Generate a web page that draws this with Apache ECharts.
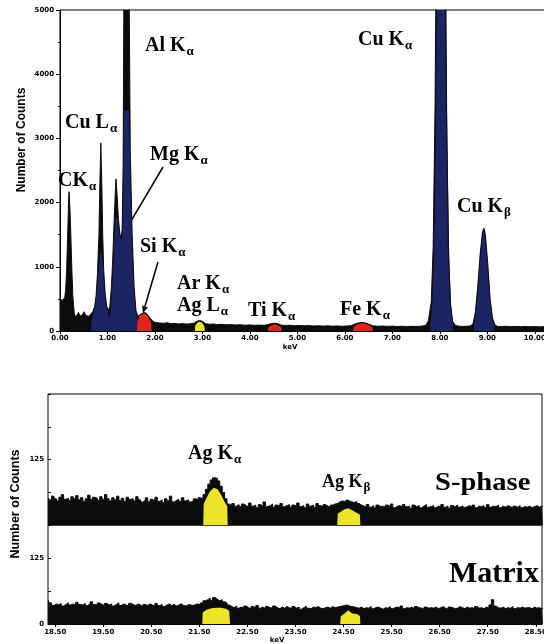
<!DOCTYPE html>
<html><head><meta charset="utf-8">
<script src="https://cdn.jsdelivr.net/npm/echarts@6/dist/echarts.min.js"></script>
<style>html,body{margin:0;padding:0;background:#fff}#c{width:544px;height:644px}</style>
</head><body><div id="c"></div>
<script>
// ---------- TOP SPECTRUM (0-10 keV), [keV, counts] ----------
const topSpectrum = [
[0.00,520],[0.02,500],[0.04,470],[0.06,440],[0.08,450],[0.10,520],[0.12,650],[0.14,950],[0.16,1450],[0.18,2000],[0.19,2170],[0.21,1900],[0.23,1450],[0.25,950],[0.27,550],[0.30,280],[0.33,210],[0.36,240],[0.39,290],[0.42,230],[0.45,200],[0.48,260],[0.51,300],[0.54,240],[0.57,210],[0.61,230],[0.65,260],[0.69,300],[0.73,380],[0.76,550],[0.79,900],[0.82,1500],[0.84,2300],[0.86,2930],[0.88,2300],[0.90,1500],[0.92,950],[0.95,600],[0.98,400],[1.02,320],[1.05,380],[1.08,650],[1.11,1100],[1.14,1700],[1.17,2250],[1.18,2370],[1.20,2150],[1.23,1750],[1.26,1520],[1.29,1430],[1.31,1600],[1.33,2600],[1.35,6000],[1.38,14000],[1.42,14000],[1.45,6000],[1.48,2800],[1.52,1500],[1.56,700],[1.60,320],[1.64,230],[1.68,250],[1.73,275],[1.78,290],[1.83,270],[1.88,220],[1.93,170],[1.98,140],[2.04,130],[2.10,125],[2.18,120],[2.26,128],[2.34,115],[2.42,118],[2.50,110],[2.58,115],[2.66,108],[2.74,112],[2.82,120],[2.88,150],[2.94,165],[3.00,150],[3.06,115],[3.14,105],[3.22,110],[3.30,100],[3.40,104],[3.50,96],[3.60,100],[3.70,94],[3.80,98],[3.90,90],[4.00,95],[4.10,88],[4.20,92],[4.30,88],[4.38,100],[4.45,115],[4.52,120],[4.59,112],[4.66,92],[4.74,86],[4.84,90],[4.94,82],[5.04,86],[5.14,80],[5.24,84],[5.34,78],[5.44,82],[5.54,76],[5.64,80],[5.74,75],[5.84,79],[5.94,74],[6.04,78],[6.12,82],[6.20,105],[6.28,125],[6.36,132],[6.44,125],[6.52,100],[6.60,80],[6.70,74],[6.80,78],[6.90,72],[7.00,76],[7.10,70],[7.20,74],[7.30,70],[7.40,73],[7.50,70],[7.60,75],[7.70,85],[7.76,160],[7.82,450],[7.86,1300],[7.90,3500],[7.94,7500],[7.98,11000],[8.02,12000],[8.06,11000],[8.10,7500],[8.14,3500],[8.18,1300],[8.22,450],[8.27,150],[8.33,85],[8.40,75],[8.48,72],[8.56,74],[8.64,78],[8.70,110],[8.75,300],[8.80,700],[8.85,1200],[8.90,1550],[8.93,1600],[8.96,1500],[9.01,1050],[9.06,500],[9.11,200],[9.16,95],[9.22,72],[9.30,70],[9.40,74],[9.50,68],[9.60,72],[9.70,67],[9.80,70],[9.90,66],[10.00,69],[10.10,65],[10.20,68],[10.30,66]
];
// peak (ROI) regions
const blueCuL  = [[0.66,150],[0.70,260],[0.74,420],[0.78,680],[0.81,950],[0.84,1200],[0.87,1250],[0.90,1050],[0.93,750],[0.97,450],[1.01,280],[1.05,200]];
const blueMgAl = [[1.05,180],[1.08,420],[1.11,850],[1.14,1350],[1.17,1750],[1.20,1800],[1.23,1650],[1.26,1500],[1.29,1420],[1.31,1600],[1.33,2500],[1.35,3440],[1.45,3440],[1.48,2700],[1.52,1450],[1.56,680],[1.60,300],[1.63,150]];
const blueCuKa = [[7.80,100],[7.84,400],[7.88,1200],[7.92,3300],[7.96,7000],[8.00,10500],[8.04,11500],[8.08,10000],[8.12,6500],[8.16,3000],[8.20,1100],[8.24,380],[8.28,100]];
const blueCuKb = [[8.72,90],[8.76,280],[8.80,640],[8.85,1150],[8.90,1500],[8.93,1560],[8.96,1450],[9.01,1000],[9.06,460],[9.11,170],[9.15,80]];
const redSi = [[1.62,0],[1.63,150],[1.68,240],[1.74,275],[1.80,270],[1.86,220],[1.92,140],[1.93,0]];
const redTi = [[4.38,0],[4.39,55],[4.45,90],[4.52,100],[4.59,90],[4.66,55],[4.67,0]];
const redFe = [[6.17,0],[6.18,50],[6.25,100],[6.34,122],[6.43,115],[6.52,85],[6.58,50],[6.59,0]];
const yellowArAg = [[2.84,0],[2.85,80],[2.90,135],[2.95,145],[3.00,125],[3.04,70],[3.05,0]];

// ---------- BOTTOM SPECTRA (18.35-28.65 keV) ----------
const bottomKeV = [
18.35,18.40,18.45,18.50,18.55,18.60,18.65,18.70,18.75,18.80,18.85,18.90,18.95,19.00,19.05,19.10,19.15,19.20,19.25,19.30,
19.35,19.40,19.45,19.50,19.55,19.60,19.65,19.70,19.75,19.80,19.85,19.90,19.95,20.00,20.05,20.10,20.15,20.20,20.25,20.30,
20.35,20.40,20.45,20.50,20.55,20.60,20.65,20.70,20.75,20.80,20.85,20.90,20.95,21.00,21.05,21.10,21.15,21.20,21.25,21.30,
21.35,21.40,21.45,21.50,21.55,21.60,21.65,21.70,21.75,21.80,21.85,21.90,21.95,22.00,22.05,22.10,22.15,22.20,22.25,22.30,
22.35,22.40,22.45,22.50,22.55,22.60,22.65,22.70,22.75,22.80,22.85,22.90,22.95,23.00,23.05,23.10,23.15,23.20,23.25,23.30,
23.35,23.40,23.45,23.50,23.55,23.60,23.65,23.70,23.75,23.80,23.85,23.90,23.95,24.00,24.05,24.10,24.15,24.20,24.25,24.30,
24.35,24.40,24.45,24.50,24.55,24.60,24.65,24.70,24.75,24.80,24.85,24.90,24.95,25.00,25.05,25.10,25.15,25.20,25.25,25.30,
25.35,25.40,25.45,25.50,25.55,25.60,25.65,25.70,25.75,25.80,25.85,25.90,25.95,26.00,26.05,26.10,26.15,26.20,26.25,26.30,
26.35,26.40,26.45,26.50,26.55,26.60,26.65,26.70,26.75,26.80,26.85,26.90,26.95,27.00,27.05,27.10,27.15,27.20,27.25,27.30,
27.35,27.40,27.45,27.50,27.55,27.60,27.65,27.70,27.75,27.80,27.85,27.90,27.95,28.00,28.05,28.10,28.15,28.20,28.25,28.30,
28.35,28.40,28.45,28.50,28.55,28.60,28.65
];
const sphaseCounts = [
52,48,55,50,46,53,58,49,51,47,54,50,56,48,52,45,50,57,49,53,
51,47,54,49,58,50,46,52,48,55,47,51,45,53,49,50,46,54,48,44,
47,52,44,49,46,53,45,48,43,50,46,55,44,47,49,45,52,46,48,44,
46,50,48,52,50,58,68,78,86,90,89,84,74,62,50,40,37,41,36,39,
35,40,37,34,42,36,38,33,39,36,44,35,37,40,34,38,36,41,35,37,
39,34,38,36,42,35,37,33,40,36,38,34,41,37,35,39,36,34,38,40,
41,44,46,45,48,46,44,43,45,41,38,36,35,39,34,37,33,38,35,36,
34,38,35,40,33,36,37,34,39,35,36,32,38,35,37,33,36,39,34,35,
37,33,36,35,39,34,36,32,37,35,38,34,36,33,35,37,34,38,33,36,
35,37,33,39,34,36,35,38,33,36,34,37,35,32,36,34,37,33,35,34,
36,33,35,37,34,36,35
];
const matrixCounts = [
46,40,35,38,36,39,34,37,40,36,38,35,41,37,36,39,35,38,42,37,
36,40,37,35,39,36,38,34,37,40,35,38,36,34,39,37,35,38,36,33,
37,35,38,36,34,39,35,37,33,36,38,35,37,34,36,38,35,34,37,36,
35,37,38,36,40,44,46,49,45,50,47,44,46,42,40,36,33,31,34,30,
32,30,34,31,29,33,31,35,30,32,29,33,31,30,34,31,29,32,30,33,
31,29,33,30,32,28,31,34,30,29,32,31,33,30,29,31,32,30,33,31,
32,33,34,35,36,34,33,32,31,30,32,29,31,30,33,29,31,32,30,28,
31,30,33,29,31,32,30,34,29,31,30,32,29,33,31,30,28,32,30,31,
30,32,29,31,33,30,28,32,31,29,30,33,31,29,32,30,31,29,33,30,
31,29,32,30,36,46,34,31,30,32,29,31,30,33,29,31,30,32,30,31,
31,29,32,30,31,29,30
];
const sphaseAgKa = [[21.58,0],[21.59,40],[21.65,52],[21.72,64],[21.80,71],[21.88,68],[21.95,58],[22.02,45],[22.08,36],[22.09,0]];
const sphaseAgKb = [[24.37,0],[24.38,22],[24.45,26],[24.52,30],[24.60,32],[24.68,28],[24.76,24],[24.84,20],[24.85,0]];
const matrixAgKa = [[21.56,0],[21.57,22],[21.65,27],[21.75,30],[21.85,31],[21.95,31],[22.05,29],[22.12,25],[22.14,0]];
const matrixAgKb = [[24.43,0],[24.44,14],[24.52,20],[24.60,26],[24.68,20],[24.78,19],[24.84,15],[24.85,0]];
const bottomTicks = [18.5,19.5,20.5,21.5,22.5,23.5,24.5,25.5,26.5,27.5,28.5];

// annotation texts (main, subscript)
const topNotes = [
  ['Al K','α',145,52],['Cu K','α',358,46],['Cu L','α',65,129],['Mg K','α',150,161],
  ['CK','α',58,187],['Si K','α',140,253],['Ar K','α',177,290],['Ag L','α',177,312],
  ['Ti K','α',248,317],['Fe K','α',340,316],['Cu K','β',457,213],
  ['Ag K','α',188,460],['Ag K','β',322,488]
];

// ---------- build ----------
const BLACK='#0b0b0b', BLUE='#1c2464', RED='#e0261c', YELLOW='#ece32a';
const pairs = (xs, ys) => xs.map((x,i)=>[x, ys[i]]);
function area(data, color, xi, yi, extra){
  return Object.assign({type:'line', xAxisIndex:xi, yAxisIndex:yi, data, symbol:'none', showSymbol:false,
    silent:true, animation:false, clip:true,
    lineStyle:{width:0,color}, areaStyle:{color, opacity:1}}, extra||{});
}
const tickFont = {fontSize:7, fontWeight:'bold', color:'#000', fontFamily:'DejaVu Sans'};
const gridBase = {show:true, borderColor:'#000', borderWidth:1, backgroundColor:'transparent', containLabel:false, outerBoundsMode:'none'};

const chart = echarts.init(document.getElementById('c'), null, {renderer:'canvas'});
chart.setOption({
  animation:false,
  backgroundColor:'#fff',
  grid:[
    Object.assign({left:60, top:10, width:489, height:321}, gridBase),
    Object.assign({left:48, top:394, width:494, height:131}, gridBase),
    Object.assign({left:48, top:525, width:494, height:99}, gridBase)
  ],
  xAxis:[
    {type:'value', gridIndex:0, min:0, max:10.3, interval:1,
     axisLine:{lineStyle:{color:'#000',width:1}}, axisTick:{length:3, lineStyle:{color:'#000'}},
     axisLabel:Object.assign({margin:4, formatter:v=>v.toFixed(2)}, tickFont), splitLine:{show:false}},
    {type:'value', gridIndex:1, min:18.35, max:28.63,
     axisLine:{show:false}, axisTick:{show:false}, axisLabel:{show:false}, splitLine:{show:false}},
    {type:'value', gridIndex:2, min:18.35, max:28.63,
     axisLine:{lineStyle:{color:'#000',width:1}}, axisTick:{length:3, customValues:bottomTicks, lineStyle:{color:'#000'}},
     axisLabel:Object.assign({margin:5, customValues:bottomTicks, formatter:v=>v.toFixed(2)}, tickFont), splitLine:{show:false}}
  ],
  yAxis:[
    {type:'value', gridIndex:0, min:0, max:5000, interval:1000,
     axisLine:{show:true, lineStyle:{color:'#000',width:1}}, axisTick:{show:true, length:4, lineStyle:{color:'#000'}},
     minorTick:{show:true, splitNumber:2, length:2, lineStyle:{color:'#000'}},
     axisLabel:Object.assign({margin:6, formatter:v=>String(v)}, tickFont), splitLine:{show:false}},
    {type:'value', gridIndex:1, min:0, max:250, interval:62.5,
     axisLine:{show:false}, axisTick:{show:true, inside:true, length:3, lineStyle:{color:'#000'}},
     axisLabel:Object.assign({margin:4, formatter:v=>v===125?'125':''}, tickFont), splitLine:{show:false}},
    {type:'value', gridIndex:2, min:0, max:187.5, interval:62.5,
     axisLine:{show:false}, axisTick:{show:true, inside:true, length:3, lineStyle:{color:'#000'}},
     axisLabel:Object.assign({margin:4, formatter:v=>(v===125||v===0)?String(v):''}, tickFont), splitLine:{show:false}}
  ],
  series:[
    area(topSpectrum, BLACK, 0, 0),
    area(blueCuL, BLUE, 0, 0), area(blueMgAl, BLUE, 0, 0), area(blueCuKa, BLUE, 0, 0), area(blueCuKb, BLUE, 0, 0),
    area(redSi, RED, 0, 0), area(redTi, RED, 0, 0), area(redFe, RED, 0, 0), area(yellowArAg, YELLOW, 0, 0),
    {type:'line', xAxisIndex:0, yAxisIndex:0, data:topSpectrum, symbol:'none', silent:true, animation:false, clip:true,
     lineStyle:{width:1, color:BLACK}},
    area(pairs(bottomKeV, sphaseCounts), BLACK, 1, 1, {step:'middle', lineStyle:{width:1,color:BLACK}}),
    area(sphaseAgKa, YELLOW, 1, 1), area(sphaseAgKb, YELLOW, 1, 1),
    area(pairs(bottomKeV, matrixCounts), BLACK, 2, 2, {step:'middle', lineStyle:{width:1,color:BLACK}}),
    area(matrixAgKa, YELLOW, 2, 2), area(matrixAgKb, YELLOW, 2, 2)
  ]
});

// ---------- annotations ----------
const measureCtx = document.createElement('canvas').getContext('2d');
function textW(font, t){ measureCtx.font = font; return measureCtx.measureText(t).width; }
const SERIF = '"Liberation Serif", "Times New Roman", serif';
const els = [];
topNotes.forEach(([t, s, x, base], i) => {
  const S = (i === 12) ? 18 : 20, s2 = 13;
  const fMain = 'bold ' + S + 'px ' + SERIF, fSub = 'bold ' + s2 + 'px ' + SERIF;
  const yMid = base - 0.32 * S;
  els.push({type:'text', x:x, y:yMid, silent:true, style:{text:t, font:fMain, fill:'#000', textAlign:'left', textVerticalAlign:'middle'}});
  const sx = x + textW(fMain, t) + 1;
  const sy = base + 4 - 0.32 * s2;
  els.push({type:'text', x:sx, y:sy, silent:true, style:{text:s, font:fSub, fill:'#000', textAlign:'left', textVerticalAlign:'middle'}});
});
els.push({type:'text', x:435, y:492 - 0.32*26, scaleX:1.1, silent:true,
  style:{text:'S-phase', font:'bold 26px ' + SERIF, fill:'#000', textAlign:'left', textVerticalAlign:'middle'}});
els.push({type:'text', x:449, y:584 - 0.32*30, silent:true,
  style:{text:'Matrix', font:'bold 30px ' + SERIF, fill:'#000', textAlign:'left', textVerticalAlign:'middle'}});
// axis titles
const SANS = '"Liberation Sans", Arial, sans-serif';
els.push({type:'text', x:22, y:140, rotation:Math.PI/2, silent:true,
  style:{text:'Number of Counts', font:'bold 12px ' + SANS, fill:'#000', textAlign:'center', textVerticalAlign:'middle'}});
els.push({type:'text', x:16, y:504, rotation:Math.PI/2, silent:true,
  style:{text:'Number of Counts', font:'bold 12.5px ' + SANS, fill:'#000', textAlign:'center', textVerticalAlign:'middle'}});
els.push({type:'text', x:290, y:347, silent:true,
  style:{text:'keV', font:'bold 7px "DejaVu Sans"', fill:'#000', textAlign:'center', textVerticalAlign:'middle'}});
els.push({type:'text', x:277, y:640, silent:true,
  style:{text:'keV', font:'bold 7px "DejaVu Sans"', fill:'#000', textAlign:'center', textVerticalAlign:'middle'}});
// arrows
function arrow(x1, y1, x2, y2){
  const dx = x2 - x1, dy = y2 - y1, L = Math.hypot(dx, dy), ux = dx / L, uy = dy / L;
  const hl = 7, hw = 3;
  const bx = x2 - ux * hl, by = y2 - uy * hl;
  els.push({type:'line', silent:true, shape:{x1, y1, x2:bx, y2:by}, style:{stroke:'#000', lineWidth:1.5}});
  els.push({type:'polygon', silent:true, shape:{points:[[x2,y2],[bx - uy*hw, by + ux*hw],[bx + uy*hw, by - ux*hw]]}, style:{fill:'#000'}});
}
arrow(163, 167, 121, 238);
arrow(158, 262, 143, 313);
chart.setOption({graphic:{elements:els}});
</script></body></html>
